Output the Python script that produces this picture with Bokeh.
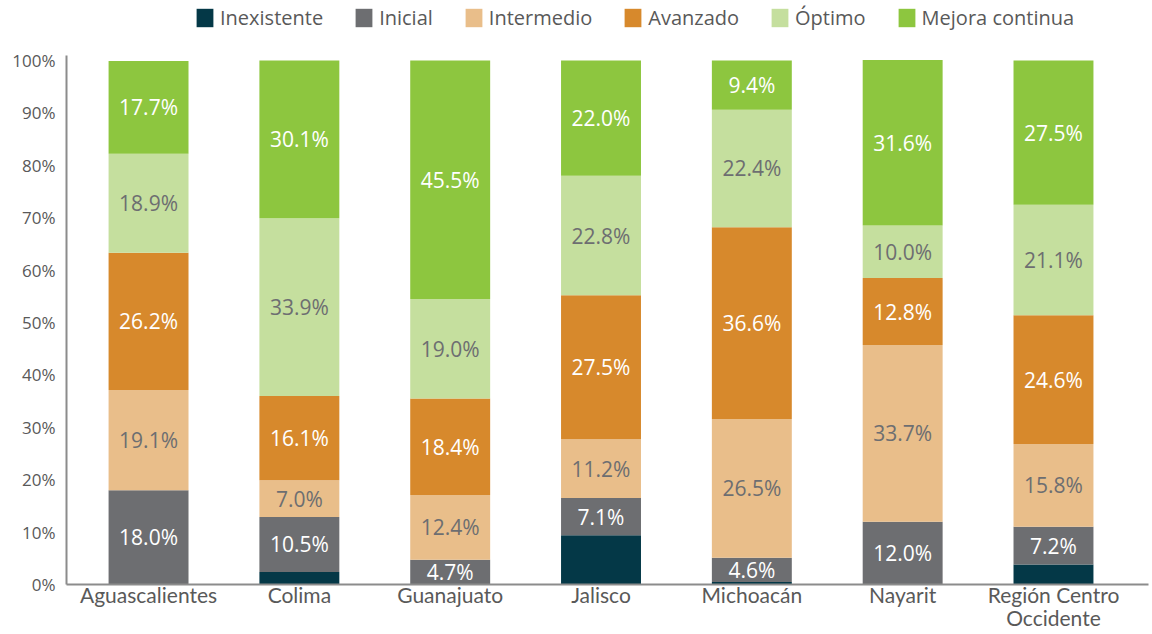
from bokeh.plotting import figure
from bokeh.models import ColumnDataSource, Legend, LegendItem, FixedTicker, Range1d
from bokeh.core.properties import value
from bokeh.embed import file_html
from bokeh.resources import INLINE

categories = ["Aguascalientes", "Colima", "Guanajuato", "Jalisco", "Michoacán", "Nayarit", "Región Centro\nOccidente"]
series = ["Inexistente", "Inicial", "Intermedio", "Avanzado", "Óptimo", "Mejora continua"]
inexistente = [0.0, 2.4, 0.0, 9.4, 0.5, 0.0, 3.8]
inicial = [18.0, 10.5, 4.7, 7.1, 4.6, 12.0, 7.2]
intermedio = [19.1, 7.0, 12.4, 11.2, 26.5, 33.7, 15.8]
avanzado = [26.2, 16.1, 18.4, 27.5, 36.6, 12.8, 24.6]
optimo = [18.9, 33.9, 19.0, 22.8, 22.4, 10.0, 21.1]
mejora = [17.7, 30.1, 45.5, 22.0, 9.4, 31.6, 27.5]
y_ticks = [0, 10, 20, 30, 40, 50, 60, 70, 80, 90, 100]

colors = ["#043847", "#6d6e71", "#e9be8a", "#d7892c", "#c5df9e", "#8dc63f"]
label_colors = [None, "white", "#6d6e71", "white", "#6d6e71", "white"]
FONT = "Open Sans"

values = [inexistente, inicial, intermedio, avanzado, optimo, mejora]
xs = list(range(len(categories)))
data = {"x": xs}
for s, v in zip(series, values):
    data[s] = v
src = ColumnDataSource(data)

p = figure(output_backend="svg", toolbar_location=None,
           frame_width=1082, frame_height=580,
           min_border_left=66, min_border_right=4, min_border_top=4, min_border_bottom=49,
           x_range=Range1d(-0.544, 6.63), y_range=Range1d(0, 110.7))

renderers = p.vbar_stack(series, x="x", width=0.53, color=colors, source=src, line_color=None)

# labels
lx, ly, lt, lc = [], [], [], []
for i in xs:
    base = 0.0
    for k, v in enumerate(values):
        val = v[i]
        if label_colors[k] is not None and val > 0:
            lx.append(i)
            ly.append(base + val / 2)
            lt.append(f"{val:.1f}%")
            c = label_colors[k]
            if k == 1 and val < 5:
                c = "white"
            lc.append(c)
        base += val
lsrc = ColumnDataSource(dict(x=lx, y=ly, t=lt, c=lc))
p.text(x="x", y="y", text="t", text_color="c", source=lsrc, text_align="center",
       text_baseline="middle", text_font=value(FONT), text_font_size="21px")

legend = Legend(items=[LegendItem(label=s, renderers=[r]) for s, r in zip(series, renderers)],
                orientation="horizontal", location=(128, 553),
                glyph_width=21, glyph_height=23, label_standoff=5, spacing=30,
                label_text_font=FONT, label_text_font_size="20px", label_text_color="#595959",
                border_line_color=None, background_fill_alpha=0, padding=0, margin=0)
p.add_layout(legend, "center")

p.xgrid.visible = False
p.ygrid.visible = False
p.outline_line_color = None

p.xaxis.ticker = FixedTicker(ticks=xs)
p.xaxis.major_label_overrides = {i: c for i, c in enumerate(categories)}
p.yaxis.ticker = FixedTicker(ticks=y_ticks)
p.yaxis.major_label_overrides = {t: f"{t}%" for t in y_ticks}
p.yaxis.bounds = (0, 101)
for ax in (p.xaxis[0], p.yaxis[0]):
    ax.axis_line_color = "#8c8c8c"
    ax.axis_line_width = 2
    ax.major_tick_line_color = None
    ax.minor_tick_line_color = None
    ax.major_label_text_font = FONT
    ax.major_label_text_color = "#595959"
p.xaxis.major_label_text_font = "Lato"
p.xaxis.major_label_text_font_size = "21px"
p.xaxis.major_label_text_line_height = 0.95
p.yaxis.major_label_text_font_size = "17px"
p.xaxis.major_label_standoff = -9
p.yaxis.major_label_standoff = 5

open("out.html", "w").write(file_html(p, INLINE))
